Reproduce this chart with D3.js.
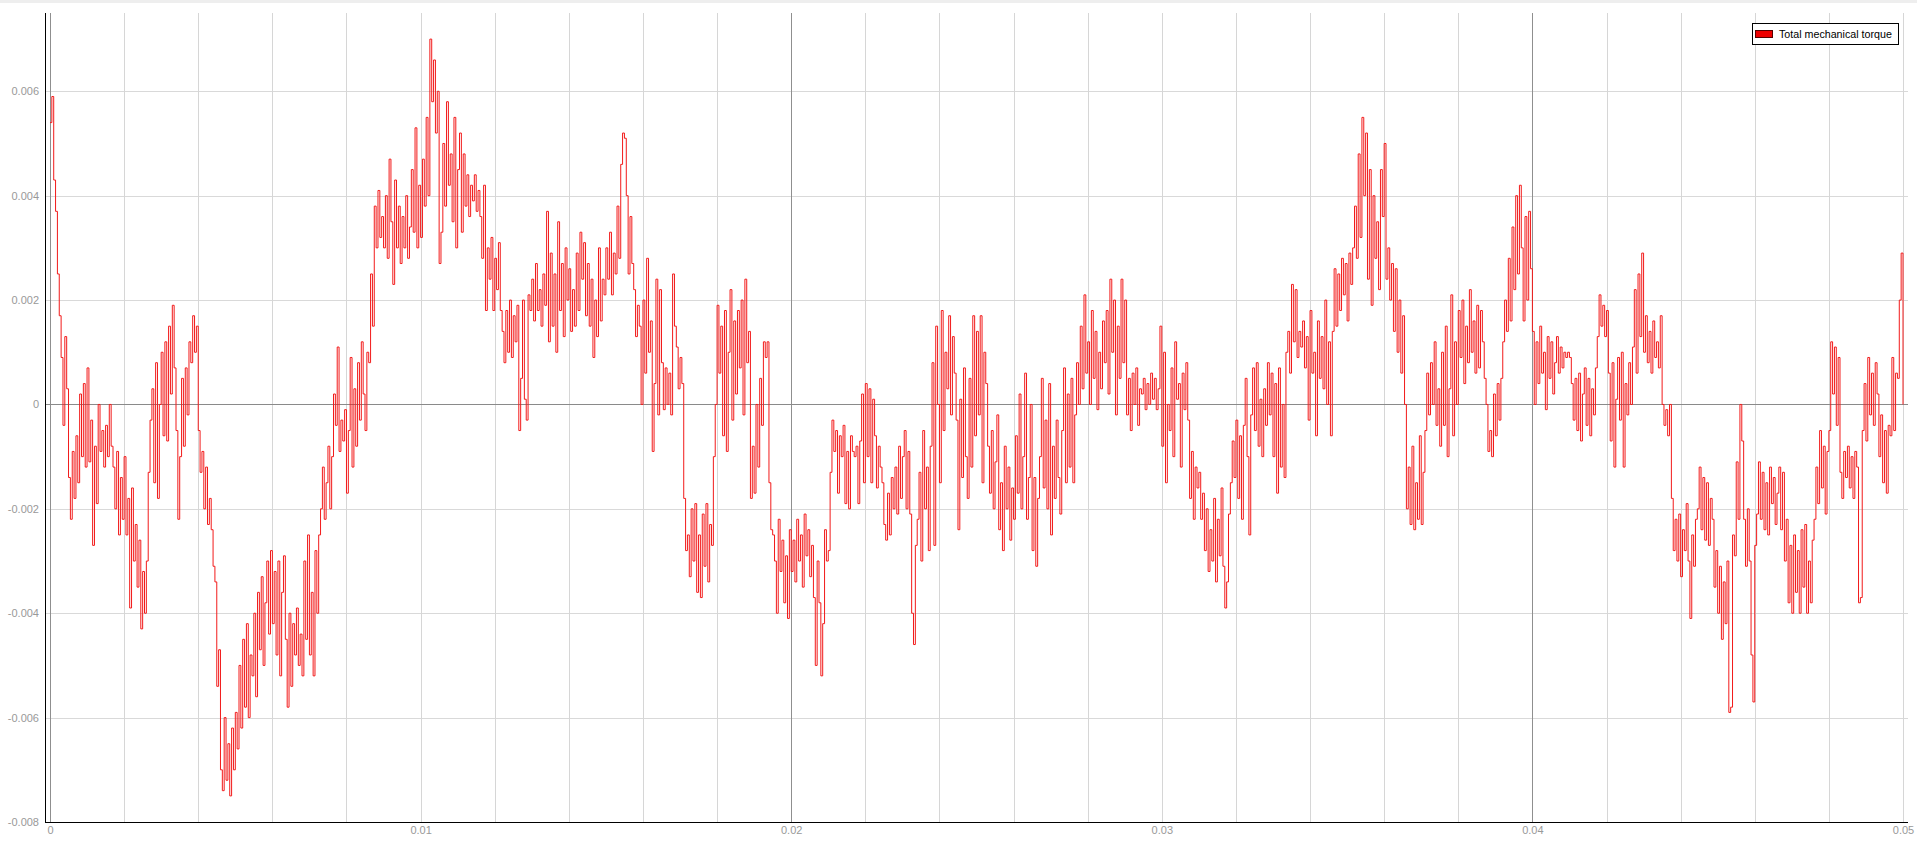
<!DOCTYPE html>
<html><head><meta charset="utf-8">
<script src="https://cdn.jsdelivr.net/npm/d3@7"></script>
<style>html,body{margin:0;padding:0;background:#fff;overflow:hidden}</style>
</head><body>
<svg id="chart" width="1917" height="847"></svg>
<script>
const seriesName = "Total mechanical torque";
const timeStep = 0.00005; // sampling interval of the series (s)
const torque = [
0.0054,0.0059,0.0043,0.0037,0.0025,0.0017,0.0009,-0.0004,0.0013,0.0003,
-0.0014,-0.0022,-0.0009,-0.0018,-0.0006,-0.0015,0.0002,-0.0010,0.0004,-0.0012,
0.0007,-0.0011,-0.0003,-0.0027,-0.0008,-0.0019,0,-0.0009,-0.0005,-0.0012,
-0.0004,-0.0010,0,-0.0008,-0.0012,-0.0020,-0.0009,-0.0025,-0.0014,-0.0022,
-0.0010,-0.0025,-0.0018,-0.0039,-0.0016,-0.0030,-0.0023,-0.0035,-0.0026,-0.0043,
-0.0032,-0.0040,-0.0030,-0.0013,-0.0003,0.0003,-0.0015,0.0008,-0.0018,0,
0.0010,-0.0006,0.0012,-0.0007,0.0015,0.0002,0.0019,0.0007,-0.0005,-0.0022,
-0.0010,0.0005,-0.0008,0.0007,-0.0002,0.0012,0.0008,0.0017,0.0010,0.0015,
-0.0005,-0.0013,-0.0009,-0.0020,-0.0012,-0.0023,-0.0018,-0.0024,-0.0031,-0.0034,
-0.0054,-0.0047,-0.0070,-0.0074,-0.0060,-0.0072,-0.0065,-0.0075,-0.0062,-0.0070,
-0.0059,-0.0066,-0.0050,-0.0062,-0.0045,-0.0058,-0.0042,-0.0060,-0.0048,-0.0052,
-0.0040,-0.0056,-0.0036,-0.0047,-0.0033,-0.0050,-0.0038,-0.0030,-0.0044,-0.0028,
-0.0042,-0.0032,-0.0048,-0.0030,-0.0052,-0.0036,-0.0029,-0.0045,-0.0058,-0.0040,
-0.0054,-0.0042,-0.0048,-0.0039,-0.0050,-0.0044,-0.0052,-0.0030,-0.0045,-0.0025,
-0.0048,-0.0036,-0.0052,-0.0028,-0.0040,-0.0025,-0.0020,-0.0012,-0.0022,-0.0015,
-0.0008,-0.0020,-0.0010,0.0002,-0.0004,0.0011,-0.0009,-0.0003,-0.0007,-0.0001,
-0.0017,-0.0005,0.0009,-0.0012,0.0003,-0.0008,0.0008,-0.0003,0.0012,0.0002,
-0.0005,0.0010,0.0008,0.0025,0.0015,0.0038,0.0030,0.0041,0.0032,0.0036,
0.0030,0.0040,0.0028,0.0047,0.0035,0.0023,0.0043,0.0030,0.0038,0.0027,
0.0036,0.0030,0.0040,0.0028,0.0034,0.0045,0.0033,0.0053,0.0030,0.0042,
0.0032,0.0047,0.0038,0.0055,0.0040,0.0070,0.0058,0.0066,0.0052,0.0060,
0.0027,0.0033,0.0050,0.0038,0.0058,0.0042,0.0048,0.0035,0.0055,0.0030,
0.0045,0.0052,0.0033,0.0048,0.0038,0.0044,0.0036,0.0042,0.0039,0.0044,
0.0037,0.0041,0.0036,0.0028,0.0042,0.0018,0.0030,0.0024,0.0032,0.0018,
0.0028,0.0022,0.0031,0.0018,0.0014,0.0008,0.0018,0.0010,0.0020,0.0009,
0.0017,0.0012,0.0019,-0.0005,0.0005,0.0020,0.0001,-0.0003,0.0021,0.0018,
0.0024,0.0016,0.0027,0.0018,0.0022,0.0015,0.0025,0.0019,0.0037,0.0012,
0.0029,0.0015,0.0025,0.0010,0.0035,0.0018,0.0027,0.0013,0.0030,0.0020,
0.0026,0.0014,0.0022,0.0015,0.0029,0.0018,0.0033,0.0024,0.0031,0.0017,
0.0027,0.0015,0.0024,0.0009,0.0020,0.0013,0.0030,0.0016,0.0024,0.0021,
0.0030,0.0024,0.0033,0.0021,0.0029,0.0025,0.0038,0.0028,0.0046,0.0052,
0.0051,0.0040,0.0025,0.0036,0.0027,0.0022,0.0013,0.0019,0.0015,0,
0.0020,0.0006,0.0028,0.0010,0.0016,-0.0009,0.0004,0.0024,-0.0002,0.0022,
0.0008,-0.0001,0.0007,0,0.0006,-0.0002,0.0025,0.0015,0.0011,0.0003,
0.0009,0.0004,-0.0018,-0.0028,-0.0025,-0.0033,-0.0020,-0.0030,-0.0019,-0.0036,
-0.0025,-0.0037,-0.0021,-0.0031,-0.0019,-0.0034,-0.0023,-0.0027,-0.0010,0,
0.0019,0.0006,0.0015,-0.0006,0.0018,-0.0009,0.0010,0.0022,-0.0003,0.0016,
0.0002,0.0018,0.0007,0.0020,-0.0002,0.0024,0.0008,0.0014,-0.0018,-0.0008,
-0.0017,0,-0.0012,0.0005,-0.0004,0.0012,0.0009,0.0012,-0.0015,-0.0024,
-0.0025,-0.0030,-0.0040,-0.0022,-0.0032,-0.0026,-0.0038,-0.0029,-0.0041,-0.0024,
-0.0032,-0.0026,-0.0034,-0.0022,-0.0030,-0.0025,-0.0035,-0.0021,-0.0029,-0.0024,
-0.0033,-0.0027,-0.0037,-0.0050,-0.0030,-0.0038,-0.0052,-0.0042,-0.0024,-0.0030,
-0.0028,-0.0013,-0.0003,-0.0009,-0.0005,-0.0017,-0.0006,-0.0010,-0.0004,-0.0019,
-0.0009,-0.0020,-0.0006,-0.0009,-0.0010,-0.0008,-0.0019,-0.0007,0.0002,-0.0015,
0.0004,-0.0010,0.0003,-0.0015,0.0001,-0.0006,-0.0016,-0.0008,-0.0012,-0.0015,
-0.0023,-0.0026,-0.0017,-0.0025,-0.0014,-0.0020,-0.0012,-0.0021,-0.0008,-0.0018,
-0.0010,-0.0005,-0.0020,-0.0009,-0.0021,-0.0040,-0.0046,-0.0027,-0.0022,-0.0013,
-0.0030,-0.0005,-0.0020,-0.0012,-0.0028,-0.0008,0.0008,-0.0027,0.0015,0,
-0.0015,0.0018,-0.0005,0.0010,0.0003,0.0017,-0.0002,0.0013,0.0006,-0.0003,
-0.0024,0.0001,-0.0014,0.0007,-0.0010,-0.0018,0.0005,-0.0012,0.0017,-0.0006,
0.0014,-0.0002,0.0017,-0.0015,0.0010,0.0004,-0.0008,-0.0017,-0.0005,-0.0020,
-0.0011,-0.0002,-0.0024,-0.0015,-0.0028,-0.0008,-0.0020,-0.0012,-0.0026,-0.0016,
-0.0022,-0.0006,-0.0017,0.0002,-0.0020,-0.0010,0.0006,-0.0022,-0.0014,0,
-0.0028,-0.0014,-0.0031,-0.0018,-0.0010,0.0005,-0.0016,-0.0003,-0.0020,0.0004,
-0.0025,-0.0008,-0.0018,-0.0003,-0.0014,-0.0021,-0.0005,0.0007,-0.0015,0.0002,
-0.0012,0.0005,-0.0015,-0.0002,0.0008,0,0.0015,0.0003,0.0021,0.0006,
0.0012,0,0.0018,0.0005,0.0014,-0.0001,0.0010,0.0003,0.0016,0.0008,
0.0018,0.0002,0.0024,0.0010,0.0020,-0.0002,0.0015,0.0005,0.0024,0.0008,
0.0020,-0.0002,0.0005,-0.0005,0.0006,0,0.0007,-0.0004,0.0003,0.0002,
0.0005,-0.0001,0.0004,0,0.0006,0.0001,0.0005,-0.0001,0.0003,0.0015,
-0.0008,0.0010,-0.0015,0,-0.0005,0.0007,-0.0010,0.0012,0.0001,0.0004,
-0.0012,0.0006,-0.0001,0.0008,-0.0003,-0.0018,-0.0009,-0.0022,-0.0012,-0.0016,
-0.0013,-0.0022,-0.0017,-0.0028,-0.0020,-0.0032,-0.0024,-0.0030,-0.0018,-0.0034,
-0.0022,-0.0029,-0.0016,-0.0031,-0.0039,-0.0034,-0.0021,-0.0015,-0.0007,-0.0014,
-0.0003,-0.0018,-0.0006,-0.0022,-0.0004,0.0005,-0.0010,-0.0025,-0.0002,0.0007,
-0.0005,0.0008,-0.0008,0.0001,-0.0010,0.0003,-0.0004,0.0008,-0.0002,0.0006,
-0.0010,0.0004,-0.0017,0.0007,-0.0012,0,-0.0014,0.0010,0.0014,0.0006,
0.0023,0.0012,0.0022,0.0009,0.0014,0.0011,0.0016,0.0007,0.0013,-0.0003,
0.0018,0.0006,0.0010,-0.0006,0.0016,0.0005,0.0013,0.0003,0.0020,0,
0.0012,-0.0006,0.0014,0.0026,0.0015,0.0025,0.0018,0.0028,0.0021,0.0027,
0.0016,0.0029,0.0023,0.0030,0.0038,0.0028,0.0048,0.0032,0.0055,0.0040,
0.0052,0.0024,0.0045,0.0019,0.0040,0.0028,0.0035,0.0022,0.0045,0.0036,
0.0050,0.0024,0.0030,0.0020,0.0027,0.0014,0.0026,0.0010,0.0020,0.0006,
0.0017,0,-0.0020,-0.0012,-0.0023,-0.0008,-0.0024,-0.0015,-0.0022,-0.0006,
-0.0023,-0.0013,-0.0005,0.0006,-0.0002,0.0008,0,0.0012,-0.0004,0.0003,
-0.0008,0.0010,-0.0004,0.0015,-0.0010,0.0003,0.0021,-0.0006,0.0012,0,
0.0018,0.0009,0.0020,0.0004,0.0015,0.0008,0.0022,0.0010,0.0016,0.0006,
0.0019,0.0007,0.0018,0.0012,0.0005,0,-0.0009,-0.0005,-0.0010,0.0002,
-0.0006,0.0004,-0.0003,0.0005,0.0012,0.0020,0.0014,0.0028,0.0016,0.0034,
0.0022,0.0040,0.0025,0.0042,0.0030,0.0016,0.0036,0.0020,0.0037,0.0026,
0.0014,0,0.0012,0.0004,0.0015,0.0006,0.0010,-0.0001,0.0013,0.0005,
0.0012,0.0002,0.0008,0.0013,0.0006,0.0011,0.0007,0.0010,0.0009,0.0010,
0.0009,0.0004,-0.0003,0.0005,-0.0005,0.0006,-0.0007,0.0002,0.0007,-0.0004,
0.0005,-0.0006,0.0003,-0.0002,0.0007,0.0013,0.0021,0.0015,0.0019,0.0013,
0.0018,0.0006,-0.0007,0.0008,-0.0012,0.0001,0.0009,-0.0003,0.0010,-0.0012,
0.0004,-0.0002,0.0008,0,0.0011,0.0022,0.0006,0.0025,0.0013,0.0029,
0.0010,0.0017,0.0008,0.0014,0.0006,0.0016,0.0009,0.0012,0.0007,0.0017,
0,-0.0004,-0.0001,-0.0006,0,-0.0018,-0.0028,-0.0022,-0.0030,-0.0021,
-0.0033,-0.0024,-0.0028,-0.0019,-0.0030,-0.0041,-0.0025,-0.0031,-0.0022,-0.0020,
-0.0012,-0.0024,-0.0014,-0.0026,-0.0015,-0.0027,-0.0018,-0.0022,-0.0035,-0.0028,
-0.0040,-0.0031,-0.0045,-0.0034,-0.0042,-0.0030,-0.0059,-0.0058,-0.0025,-0.0029,
-0.0011,-0.0022,0,-0.0007,-0.0022,-0.0031,-0.0020,-0.0030,-0.0048,-0.0057,
-0.0027,-0.0021,-0.0011,-0.0022,-0.0013,-0.0024,-0.0015,-0.0025,-0.0012,-0.0019,
-0.0014,-0.0023,-0.0017,-0.0012,-0.0024,-0.0013,-0.0030,-0.0022,-0.0038,-0.0027,
-0.0040,-0.0025,-0.0036,-0.0028,-0.0040,-0.0024,-0.0035,-0.0023,-0.0040,-0.0030,
-0.0038,-0.0026,-0.0022,-0.0012,-0.0019,-0.0005,-0.0016,-0.0008,-0.0021,-0.0009,
-0.0005,0.0012,0.0002,0.0011,-0.0004,0.0009,-0.0013,-0.0018,-0.0009,-0.0014,
-0.0008,-0.0016,-0.0010,-0.0018,-0.0009,-0.0012,-0.0038,-0.0037,-0.0005,0.0004,
-0.0007,0.0009,-0.0002,0.0006,-0.0004,0.0008,0.0002,-0.0010,-0.0002,-0.0015,
-0.0005,-0.0017,-0.0004,-0.0006,0.0009,-0.0005,0.0006,0.0005,0.0020,0.0029,
0
];
const xTicks = [0, 0.01, 0.02, 0.03, 0.04, 0.05];
const xTickLabels = ["0", "0.01", "0.02", "0.03", "0.04", "0.05"];
const yTicks = [-0.008, -0.006, -0.004, -0.002, 0, 0.002, 0.004, 0.006];
const yTickLabels = ["-0.008", "-0.006", "-0.004", "-0.002", "0", "0.002", "0.004", "0.006"];
const xGridMinor = [0.002,0.004,0.006,0.008,0.01,0.012,0.014,0.016,0.018,0.022,0.024,0.026,0.028,0.03,0.032,0.034,0.036,0.038,0.042,0.044,0.046,0.048,0.05];
const xGridMajor = [0, 0.02, 0.04];

(function () {
const svg = d3.select("#chart");
const pL = 45, pR = 1908, pT = 13, pB = 822;
const x = d3.scaleLinear().domain([0, 0.05]).range([50, 1903]);
const y = d3.scaleLinear().domain([-0.008, 0.0075]).range([pB, pT]);
const cr = v => Math.round(v) + 0.5;
const font = "Liberation Sans, Arial, sans-serif";

svg.append("rect").attr("x", 0).attr("y", 0).attr("width", 1917).attr("height", 3).attr("fill", "#eeeeee");

svg.append("g").selectAll("line").data(yTicks.filter(d => d !== 0 && d !== -0.008)).join("line")
  .attr("x1", pL).attr("x2", pR)
  .attr("y1", d => cr(y(d))).attr("y2", d => cr(y(d)))
  .attr("stroke", "#d9d9d9").attr("stroke-width", 1);
svg.append("g").selectAll("line").data(xGridMinor).join("line")
  .attr("x1", d => cr(x(d))).attr("x2", d => cr(x(d)))
  .attr("y1", pT).attr("y2", pB)
  .attr("stroke", "#d6d6d6").attr("stroke-width", 1);
svg.append("g").selectAll("line").data(xGridMajor).join("line")
  .attr("x1", d => cr(x(d))).attr("x2", d => cr(x(d)))
  .attr("y1", pT).attr("y2", pB)
  .attr("stroke", "#8f8f8f").attr("stroke-width", 1);
svg.append("line").attr("x1", pL).attr("x2", pR)
  .attr("y1", cr(y(0))).attr("y2", cr(y(0)))
  .attr("stroke", "#8a8a8a").attr("stroke-width", 1);

const pts = torque.map((v, i) => [i * timeStep, v]);
const line = d3.line().x(d => x(d[0])).y(d => y(d[1])).curve(d3.curveStepAfter);
svg.append("path").datum(pts).attr("d", line)
  .attr("fill", "none").attr("stroke", "#f21a1a").attr("stroke-width", 1);

svg.append("line").attr("x1", pL + 0.5).attr("x2", pL + 0.5).attr("y1", pT).attr("y2", pB + 1)
  .attr("stroke", "#000").attr("stroke-width", 1);
svg.append("line").attr("x1", pL).attr("x2", pR).attr("y1", pB + 0.5).attr("y2", pB + 0.5)
  .attr("stroke", "#000").attr("stroke-width", 1);

const yAxis = d3.axisLeft(y).tickValues(yTicks).tickFormat((d, i) => yTickLabels[i]).tickSize(0).tickPadding(6);
svg.append("g").attr("transform", `translate(${pL},0)`).call(yAxis)
  .call(g => g.select(".domain").remove())
  .call(g => g.selectAll("text").attr("fill", "#999").attr("font-family", font).attr("font-size", "11px"));
const xAxis = d3.axisBottom(x).tickValues(xTicks).tickFormat((d, i) => xTickLabels[i]).tickSize(0).tickPadding(4);
svg.append("g").attr("transform", `translate(0,${pB})`).call(xAxis)
  .call(g => g.select(".domain").remove())
  .call(g => g.selectAll("text").attr("fill", "#999").attr("font-family", font).attr("font-size", "11px"));

const lg = svg.append("g");
lg.append("rect").attr("x", 1752.5).attr("y", 23.5).attr("width", 146).attr("height", 21)
  .attr("fill", "#fff").attr("stroke", "#000").attr("stroke-width", 1);
lg.append("rect").attr("x", 1755.5).attr("y", 30.5).attr("width", 17).attr("height", 7)
  .attr("fill", "#ee0000").attr("stroke", "#550000").attr("stroke-width", 1);
lg.append("text").attr("x", 1779).attr("y", 37.5).text(seriesName)
  .attr("font-family", font).attr("font-size", "10.7px").attr("fill", "#000");
})();
</script>
</body></html>
